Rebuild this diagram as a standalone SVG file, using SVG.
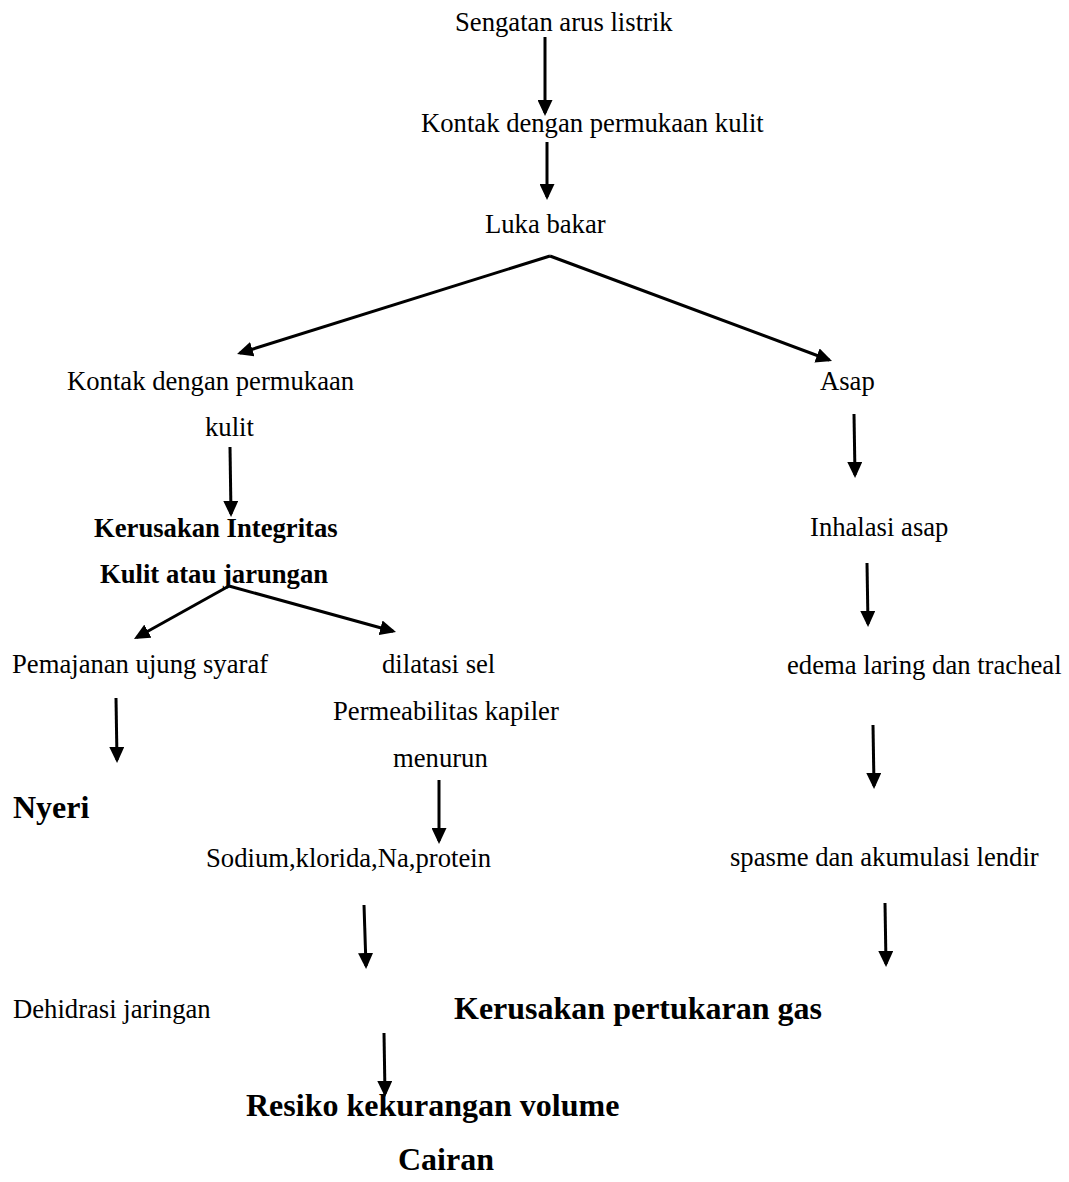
<svg xmlns="http://www.w3.org/2000/svg" width="1069" height="1182" viewBox="0 0 1069 1182">
<defs>
<style>
text{font-family:"Liberation Serif","Times New Roman",serif;fill:#000;font-size:26.67px}
.b{font-weight:bold}
.big{font-weight:bold;font-size:32px}
.c line{stroke:#000;stroke-width:3;marker-end:url(#ah)}
</style>
<marker id="ah" markerUnits="userSpaceOnUse" markerWidth="16" markerHeight="15" refX="13" refY="7.5" orient="auto">
<path d="M0,0 L16,7.5 L0,15 z" fill="#000"/>
</marker>
</defs>
<rect width="1069" height="1182" fill="#fff"/>
<g class="c" id="connectors">
<line x1="545" y1="37" x2="545" y2="113"/>
<line x1="547" y1="142" x2="547" y2="197"/>
<line x1="550" y1="256" x2="239.9" y2="353.1"/>
<line x1="550" y1="256" x2="829.2" y2="360"/>
<line x1="230" y1="447" x2="231" y2="514"/>
<line x1="229" y1="586" x2="136.6" y2="637.5"/>
<line x1="229" y1="586" x2="393.1" y2="631.2"/>
<line x1="116" y1="698" x2="117" y2="760"/>
<line x1="439" y1="780" x2="439" y2="841"/>
<line x1="364" y1="905" x2="366" y2="966"/>
<line x1="384" y1="1033" x2="385" y2="1094"/>
<line x1="854" y1="414" x2="855" y2="475"/>
<line x1="867" y1="563" x2="868" y2="624"/>
<line x1="873" y1="725" x2="874" y2="786"/>
<line x1="885" y1="903" x2="886" y2="964"/>
</g>
<g id="n1"><text x="455" y="31">Sengatan arus listrik</text></g>
<g id="n2"><text x="421" y="132">Kontak dengan permukaan kulit</text></g>
<g id="n3"><text x="485" y="233">Luka bakar</text></g>
<g id="n4"><text x="67" y="390">Kontak dengan permukaan</text><text x="205" y="436">kulit</text></g>
<g id="n5"><text class="b" x="94" y="537">Kerusakan Integritas</text><text class="b" x="100" y="583">Kulit atau jarungan</text></g>
<g id="n6"><text x="12" y="673">Pemajanan ujung syaraf</text></g>
<g id="n7"><text x="382" y="673">dilatasi sel</text><text x="333" y="720">Permeabilitas kapiler</text><text x="393" y="767">menurun</text></g>
<g id="n8"><text class="big" x="13" y="818">Nyeri</text></g>
<g id="n9"><text x="206" y="867">Sodium,klorida,Na,protein</text></g>
<g id="n10"><text x="13" y="1018">Dehidrasi jaringan</text></g>
<g id="n11"><text class="big" x="454" y="1019">Kerusakan pertukaran gas</text></g>
<g id="n12"><text class="big" x="246" y="1116">Resiko kekurangan volume</text><text class="big" x="398" y="1170">Cairan</text></g>
<g id="n13"><text x="820" y="390">Asap</text></g>
<g id="n14"><text x="810" y="536">Inhalasi asap</text></g>
<g id="n15"><text x="787" y="674">edema laring dan tracheal</text></g>
<g id="n16"><text x="730" y="866">spasme dan akumulasi lendir</text></g>
</svg>
